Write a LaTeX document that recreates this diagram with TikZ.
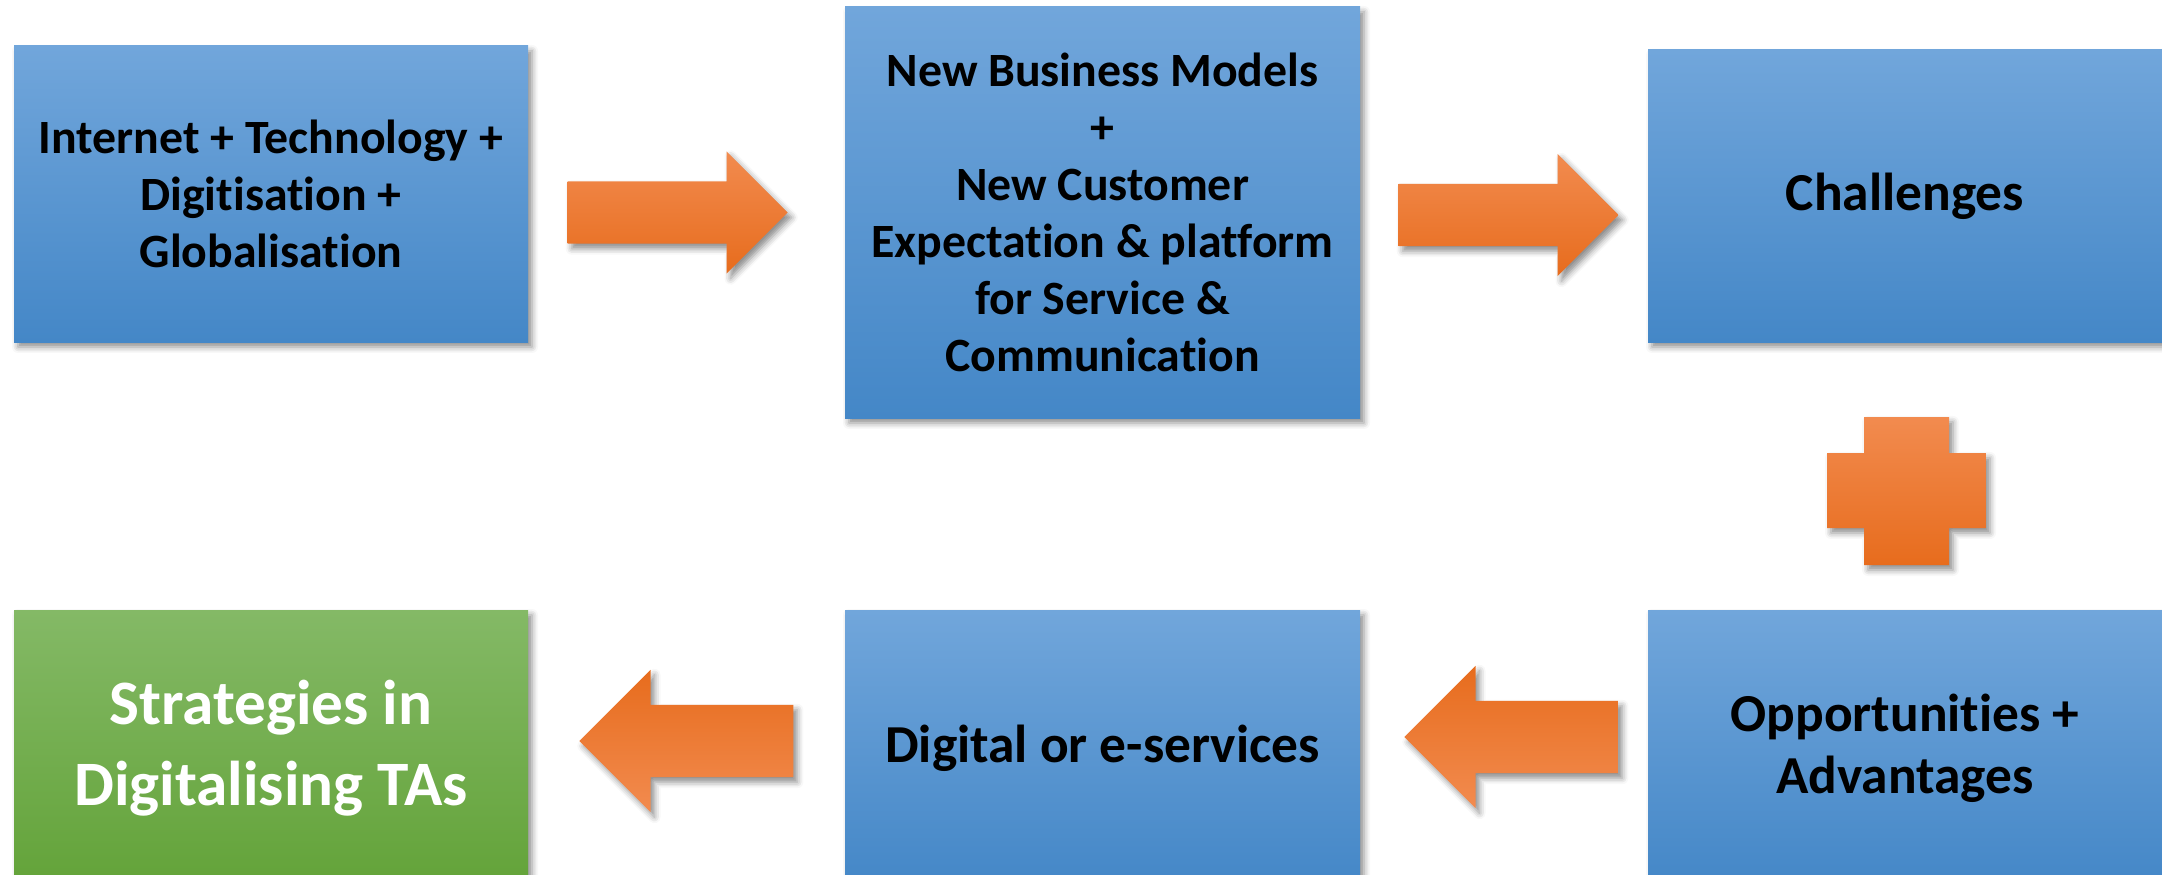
\documentclass[tikz,border=0pt]{standalone}
\usepackage{fontspec}
\setmainfont[Ligatures=NoCommon]{Carlito}
\usetikzlibrary{shapes.arrows,shadows.blur}
\begin{document}
\begin{tikzpicture}[line join=round, line cap=round]
	\definecolor{box top}{HTML}{71A6DB}
	\definecolor{box bottom}{HTML}{4487C7}
	\definecolor{goal top}{HTML}{84B966}
	\definecolor{goal bottom}{HTML}{63A339}
	\definecolor{arrow light}{HTML}{F28B4F}
	\definecolor{arrow dark}{HTML}{E76C1D}
	\tikzset{soft/.style={blur shadow={shadow xshift=0.04cm, shadow yshift=-0.05cm, shadow blur radius=0.06cm, shadow opacity=45}},
		stage/.style={rectangle, soft, top color=box top, bottom color=box bottom, align=center, inner sep=0pt, minimum width=5.14cm, text=black},
		goal/.style={stage, top color=goal top, bottom color=goal bottom, text=white},
		fwd/.style={single arrow, anchor=tail, soft, inner sep=0pt, text height=0.61cm, text depth=0pt, single arrow head extend=0.3cm, minimum height=2.2cm, top color=arrow light, bottom color=arrow dark},
		back/.style={single arrow, shape border rotate=180, anchor=tail, soft, inner sep=0pt, text height=0.71cm, text depth=0pt, single arrow head extend=0.35cm, minimum height=2.14cm, top color=arrow dark, bottom color=arrow light}}
	\useasboundingbox (0,0) rectangle (21.62,8.74);
	\clip (0,0) rectangle (21.62,8.74);
	% top row
	\node[stage, minimum height=2.96cm, font=\fontsize{13.6}{16.2}\selectfont\bfseries] (drivers) at (2.71,6.80)
		{Internet + Technology +\\ Digitisation +\\ Globalisation};
	\node[stage, minimum width=5.15cm, minimum height=4.11cm, font=\fontsize{13.6}{16.2}\selectfont\bfseries] (models) at (11.025,6.615)
		{New Business Models\\ +\\ New Customer\\ Expectation \& platform\\ for Service \&\\ Communication};
	\node[stage, minimum height=2.92cm, font=\fontsize{15.2}{18}\selectfont\bfseries] (challenges) at (19.05,6.78) {Challenges};
	\node[fwd] (a1) at (5.67,6.615) {};
	\node[fwd] (a2) at (13.98,6.59) {};
	% plus
	\path[soft, top color=arrow light, bottom color=arrow dark] (18.64,4.57) -- (19.49,4.57) -- (19.49,4.21) -- (19.86,4.21)
		-- (19.86,3.46) -- (19.49,3.46) -- (19.49,3.09) -- (18.64,3.09) -- (18.64,3.46) -- (18.27,3.46)
		-- (18.27,4.21) -- (18.64,4.21) -- cycle;
	% bottom row
	\node[stage, minimum height=2.76cm, font=\fontsize{15.2}{17.6}\selectfont\bfseries] (chances) at (19.05,1.26)
		{Opportunities +\\ Advantages};
	\node[stage, minimum width=5.15cm, minimum height=2.76cm, font=\fontsize{15.2}{17.6}\selectfont\bfseries] (eserv) at (11.025,1.26)
		{Digital or e-services};
	\node[goal, minimum height=2.76cm, font=\fontsize{18}{23}\selectfont\bfseries] (strategy) at (2.71,1.26)
		{Strategies in\\ Digitalising TAs};
	\node[back] (a3) at (16.19,1.37) {};
	\node[back] (a4) at (7.94,1.33) {};
\end{tikzpicture}
\end{document}
